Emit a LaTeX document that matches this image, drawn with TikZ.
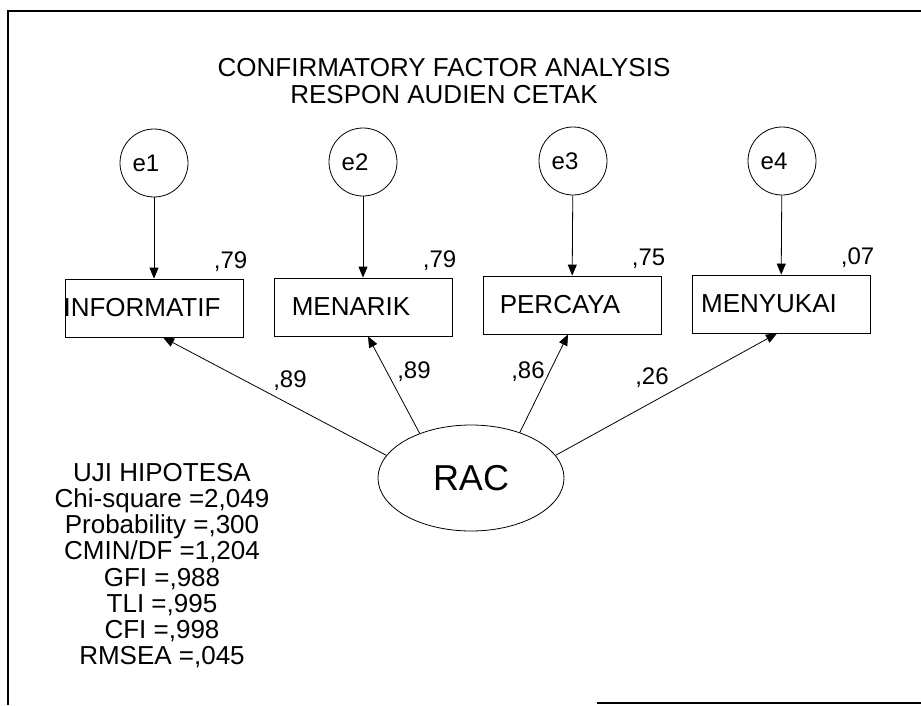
\documentclass[tikz,border=0pt]{standalone}
\usepackage{fontspec}
\setmainfont{Liberation Sans}
\usetikzlibrary{shapes.geometric,arrows.meta}

\tikzset{
    err/.style = {draw, circle, minimum size=68pt, inner sep=0pt, line width=0.8pt,
        font=\fontsize{24}{24}\selectfont, execute at begin node=\hspace*{-16pt}},
    obs/.style = {draw, rectangle, minimum width=178pt, minimum height=58pt, inner sep=0pt,
        line width=0.8pt, font=\fontsize{26}{26}\selectfont, execute at begin node=\hspace*{-24pt}},
    lat/.style = {draw, ellipse, minimum width=186pt, minimum height=106pt, inner sep=0pt,
        line width=0.8pt, font=\fontsize{36}{36}\selectfont},
    coef/.style = {inner sep=0pt, font=\fontsize{24}{24}\selectfont},
    reg/.style = {line width=0.8pt, -{Triangle[length=11pt, width=9pt]}},
}

\begin{document}
\begin{tikzpicture}[x=1pt, y=-1pt]%
    \useasboundingbox (0, 0) rectangle (921, 705);
    % frame
    \draw[line width=2.2pt] (921, 11) -- (8, 11) -- (8, 705);
    \draw[line width=1.5pt] (597, 703) -- (921, 703);
    % title
    \node[anchor = north, inner sep=0pt, align=center, font=\fontsize{26}{27}\selectfont] (title) at (444, 58)
        {CONFIRMATORY FACTOR ANALYSIS\\RESPON AUDIEN CETAK};
    % errors
    \node[err] (e1) at (154, 163) {e1};
    \node[err] (e2) at (363, 162) {e2};
    \node[err] (e3) at (573, 161) {e3};
    \node[err] (e4) at (782, 161) {e4};
    % indicators
    \node[obs] (inf) at (154, 308) {INFORMATIF};
    \node[obs] (men) at (363, 307) {MENARIK};
    \node[obs] (per) at (572, 305) {PERCAYA};
    \node[obs] (suk) at (781, 304) {MENYUKAI};
    % latent
    \node[lat] (rac) at (471, 478) {RAC};
    \draw[reg] (e1) -- (inf);
    \draw[reg] (e2) -- (men);
    \draw[reg] (e3) -- (per);
    \draw[reg] (e4) -- (suk);
    \draw[reg] (rac.165) -- ([xshift=9pt]inf.south);
    \draw[reg] (rac.139) -- ([xshift=5pt]men.south);
    \draw[reg] (rac.43) -- ([xshift=-4pt]per.south);
    \draw[reg] (rac.15) -- ([xshift=-4pt]suk.south);
    % squared correlations
    \node[coef, anchor = base east] (r1) at ([shift={(4pt, 10pt)}]inf.north east) {,79};
    \node[coef, anchor = base east] (r2) at ([shift={(4pt, 10pt)}]men.north east) {,79};
    \node[coef, anchor = base east] (r3) at ([shift={(4pt, 10pt)}]per.north east) {,75};
    \node[coef, anchor = base east] (r4) at ([shift={(4pt, 10pt)}]suk.north east) {,07};
    % loadings
    \node[coef] (l1) at (290, 381) {,89};
    \node[coef] (l2) at (414, 372) {,89};
    \node[coef] (l3) at (528, 372) {,86};
    \node[coef] (l4) at (652, 378) {,26};
    % fit
    \node[anchor = north, inner sep=0pt, align=center, font=\fontsize{26}{26.2}\selectfont] (uji) at (162, 463)
        {UJI HIPOTESA\\Chi-square =2,049\\Probability =,300\\CMIN/DF =1,204\\GFI =,988\\TLI =,995\\CFI =,998\\RMSEA =,045};
\end{tikzpicture}
\end{document}
